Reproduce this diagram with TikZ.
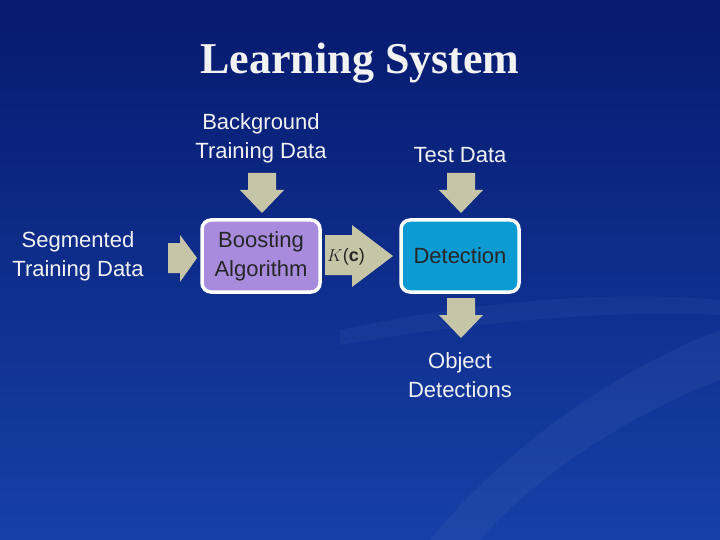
\documentclass[tikz,border=0pt]{standalone}
\usepackage{fontspec}
\setmainfont{Liberation Sans}
\newfontfamily\titlefont{Liberation Serif}
\definecolor{bgdark}{HTML}{061A6E}
\definecolor{bglight}{HTML}{1640A8}
\definecolor{boostfill}{HTML}{A98BDD}
\definecolor{detfill}{HTML}{0C9BD2}
\definecolor{arrowfill}{HTML}{C6C5A8}
\definecolor{labeltext}{HTML}{F2F2F2}
% down block arrow: centre x, top y
\newcommand\downblock[2]{\fill[arrowfill] (#1-14,#2) -- (#1+14,#2) -- (#1+14,#2+17) -- (#1+22,#2+17) -- (#1,#2+40) -- (#1-22,#2+17) -- (#1-14,#2+17) -- cycle;}

\begin{document}
\begin{tikzpicture}[x=1pt,y=-1pt,
	caption/.style={text=labeltext,align=center,font=\fontsize{22}{29}\selectfont},
	stage/.style={draw=white,line width=3.5pt,rounded corners=9pt,minimum width=118pt,minimum height=72pt,align=center,font=\fontsize{22}{29}\selectfont,text=black!85}]
	% Background
	\shade[top color=bgdark,bottom color=bglight] (0,0) rectangle (720,540);
	\useasboundingbox (0,0) rectangle (720,540);
	\fill[bglight!70!white,opacity=0.12] (430,540) .. controls (520,430) and (640,360) .. (720,330) -- (720,380) .. controls (640,410) and (540,470) .. (480,540) -- cycle;
	\fill[bglight!70!white,opacity=0.10] (340,330) .. controls (480,300) and (620,290) .. (720,300) -- (720,315) .. controls (620,310) and (480,320) .. (340,345) -- cycle;

	% Title
	\node (title) at (360,63) {\titlefont\bfseries\fontsize{44}{50}\selectfont\color{labeltext}Learning System};

	% Block arrows
	\downblock{262}{173}
	\downblock{461}{173}
	\downblock{461}{298}
	\fill[arrowfill] (168,243) -- (180,243) -- (180,235) -- (197,258) -- (180,282) -- (180,273) -- (168,273) -- cycle;
	\fill[arrowfill] (325,235) -- (352,235) -- (352,225) -- (393,256) -- (352,287) -- (352,275) -- (325,275) -- cycle;

	% Stages
	\node [stage,fill=boostfill] (boost) at (261,256) {Boosting\\Algorithm};
	\node [stage,fill=detfill]   (detect) at (460,256) {Detection};
	\node [font=\fontsize{18}{20}\selectfont,text=black!85] (kclabel) at (346,257) {$K$(\textbf{c})};

	% Labels
	\node [caption] (bgdata)  at (261,138) {Background\\Training Data};
	\node [caption] (testdata) at (460,155) {Test Data};
	\node [caption] (segdata) at (78,256) {Segmented\\Training Data};
	\node [caption] (objdet)  at (460,375) {Object\\Detections};
\end{tikzpicture}
\end{document}
